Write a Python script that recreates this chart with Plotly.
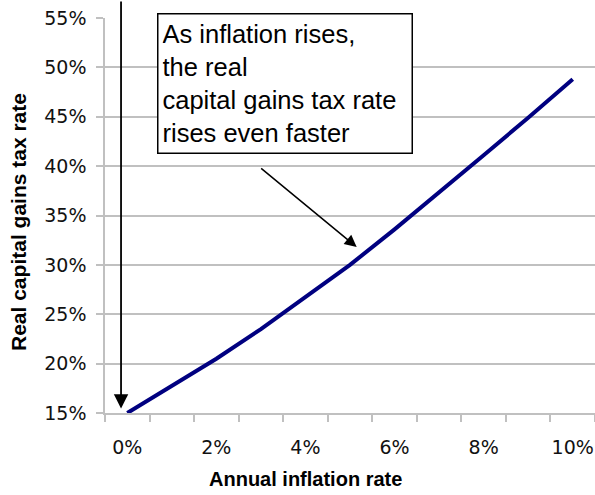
import plotly.graph_objects as go

# Annual inflation rate (%) and the resulting real capital gains tax rate
inflation = [0, 1, 2, 3, 4, 5, 6, 7, 8, 9, 10]
real_tax_rate = [0.150, 0.177, 0.205, 0.235, 0.267, 0.300, 0.336, 0.373, 0.411, 0.449, 0.488]

x_tick_vals = [0, 2, 4, 6, 8, 10]
x_tick_text = ["0%", "2%", "4%", "6%", "8%", "10%"]
y_tick_vals = [0.15, 0.20, 0.25, 0.30, 0.35, 0.40, 0.45, 0.50, 0.55]

note_text = "As inflation rises,<br>the real<br>capital gains tax rate<br>rises even faster"

W, H = 595, 495
L, R, T, B = 105, 0, 18, 82
plot_w, plot_h = W - L - R, H - T - B


def px_to_paper(px, py):
    return (px - L) / plot_w, (H - B - py) / plot_h


GRID = "#c0c0c0"
TEXT = "#111111"

fig = go.Figure()
fig.add_trace(go.Scatter(
    x=inflation, y=real_tax_rate, mode="lines",
    line=dict(color="#000080", width=4),
    hoverinfo="skip", showlegend=False,
))

fig.update_xaxes(
    range=[-0.5, 10.5],
    tickvals=x_tick_vals, ticktext=x_tick_text,
    ticks="", showgrid=False, zeroline=False,
    showline=True, linecolor=GRID, linewidth=1.5,
    tickfont=dict(family="DejaVu Sans", size=19, color=TEXT),
    ticklabelstandoff=16,
    minor=dict(tickvals=[i - 0.5 for i in range(12)], ticks="outside",
               ticklen=7, tickcolor=GRID, tickwidth=1.5, showgrid=False),
)
fig.update_yaxes(
    range=[0.15, 0.55], tickvals=y_tick_vals, tickformat=".0%",
    ticks="outside", ticklen=7, tickcolor=GRID, tickwidth=1.5,
    showgrid=True, gridcolor=GRID, gridwidth=1.5, zeroline=False,
    showline=True, linecolor=GRID, linewidth=1.5,
    tickfont=dict(family="DejaVu Sans", size=19, color=TEXT),
    ticklabelstandoff=6,
)

annotations = []

# axis titles
tx, ty = px_to_paper(305, 479)
annotations.append(dict(
    text="<b>Annual inflation rate</b>", xref="paper", yref="paper",
    x=tx, y=ty, showarrow=False, xanchor="center", yanchor="middle",
    font=dict(family="Liberation Sans", size=20, color="black"),
))
tx, ty = px_to_paper(18, 222)
annotations.append(dict(
    text="<b>Real capital gains tax rate</b>", xref="paper", yref="paper",
    x=tx, y=ty, showarrow=False, xanchor="center", yanchor="middle",
    textangle=-90,
    font=dict(family="Liberation Sans", size=21, color="black"),
))

# explanatory note box
bx, by = px_to_paper(157, 13)
annotations.append(dict(
    text=note_text, xref="paper", yref="paper", x=bx, y=by,
    xanchor="left", yanchor="top", align="left", valign="middle",
    showarrow=False, width=245, height=130,
    bgcolor="white", bordercolor="black", borderwidth=1.5, borderpad=4,
    font=dict(family="Liberation Sans", size=25.5, color="black"),
))

# arrow from the note down to the curve
annotations.append(dict(
    text="", x=5.15, y=0.318, xref="x", yref="y",
    showarrow=True, ax=-97, ay=-80, axref="pixel", ayref="pixel",
    arrowhead=2, arrowsize=1.6, arrowwidth=1.5, arrowcolor="black",
    standoff=0, startstandoff=0,
))

# vertical arrow pointing at the starting value
annotations.append(dict(
    text="", x=-0.14, y=0.1545, xref="x", yref="y",
    showarrow=True, ax=0, ay=-412, axref="pixel", ayref="pixel",
    arrowhead=2, arrowsize=1.6, arrowwidth=1.8, arrowcolor="black",
    standoff=0, startstandoff=0,
))

fig.update_layout(
    width=W, height=H,
    margin=dict(l=L, r=R, t=T, b=B, pad=0),
    paper_bgcolor="white", plot_bgcolor="white",
    annotations=annotations,
    font=dict(family="Liberation Sans"),
)

fig.write_html("out.html")
